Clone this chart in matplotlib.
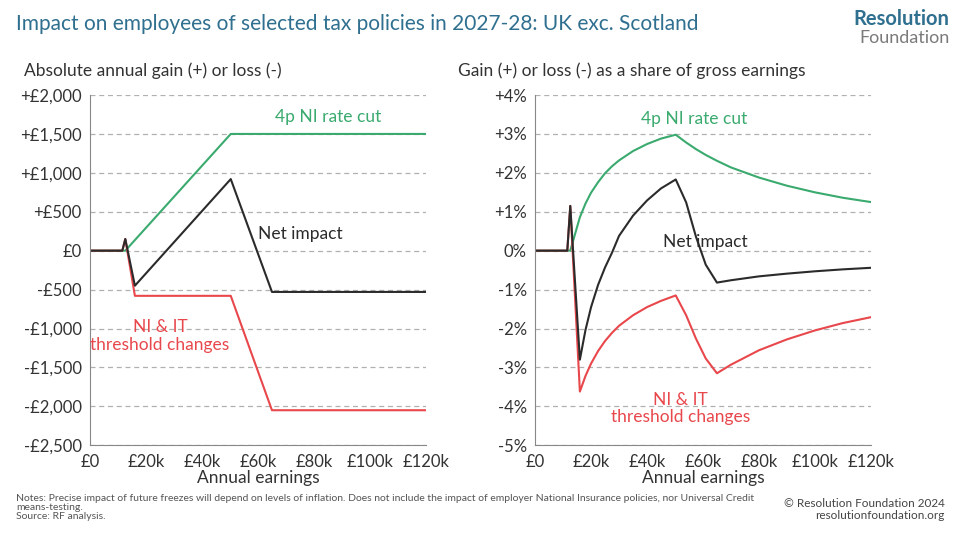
import matplotlib.pyplot as plt

plt.rcParams['font.family'] = ['Lato', 'DejaVu Sans']

# left panel: absolute gain/loss (£) by annual earnings (£k)
abs_x_ni = [0, 12.57, 50.27, 120]
abs_ni = [0, 0, 1500, 1500]
abs_x_thr = [0, 11.5, 12.57, 16, 50.27, 65, 120]
abs_thr = [0, 0, 150, -580, -580, -2050, -2050]
abs_x_net = [0, 11.5, 12.57, 16, 50.27, 65, 120]
abs_net = [0, 0, 150, -450, 920, -530, -530]

# right panel: share of gross earnings (%)
pct_x = [0, 11.5, 12.57, 16, 18, 20, 22.5, 25, 27.5, 30, 35, 40, 45, 50.27, 54, 57.5, 61, 65, 70, 80, 90, 100, 110, 120]
pct_ni = [0, 0, 0, 0.86, 1.21, 1.49, 1.76, 1.99, 2.17, 2.32, 2.56, 2.74, 2.88, 2.98, 2.78, 2.61, 2.46, 2.31, 2.14, 1.88, 1.67, 1.5, 1.36, 1.25]
pct_thr = [0, 0, 1.15, -3.62, -3.22, -2.9, -2.58, -2.32, -2.11, -1.93, -1.66, -1.45, -1.29, -1.15, -1.66, -2.26, -2.77, -3.15, -2.93, -2.56, -2.28, -2.05, -1.86, -1.71]
pct_net = [0, 0, 1.15, -2.8, -2.04, -1.45, -0.88, -0.43, -0.05, 0.38, 0.9, 1.29, 1.6, 1.83, 1.24, 0.36, -0.36, -0.82, -0.76, -0.66, -0.59, -0.53, -0.48, -0.44]

xticks = [0, 20, 40, 60, 80, 100, 120]
xlabels = ['£0', '£20k', '£40k', '£60k', '£80k', '£100k', '£120k']
abs_ticks = [-2500, -2000, -1500, -1000, -500, 0, 500, 1000, 1500, 2000]
abs_labels = ['-£2,500', '-£2,000', '-£1,500', '-£1,000', '-£500', '£0', '+£500', '+£1,000', '+£1,500', '+£2,000']
pct_ticks = [-5, -4, -3, -2, -1, 0, 1, 2, 3, 4]
pct_labels = ['-5%', '-4%', '-3%', '-2%', '-1%', '0%', '+1%', '+2%', '+3%', '+4%']

green = '#3aaa6e'
red = '#e8474c'
black = '#2b2b2b'
txt = '#333333'

fig = plt.figure(figsize=(9.59, 5.43), dpi=100)
ax1 = fig.add_axes([0.094, 0.18, 0.35, 0.645])
ax2 = fig.add_axes([0.558, 0.18, 0.35, 0.645])

for ax, ticks, labels in [(ax1, abs_ticks, abs_labels), (ax2, pct_ticks, pct_labels)]:
    ax.set_xlim(0, 120)
    ax.set_ylim(ticks[0], ticks[-1])
    ax.set_yticks(ticks)
    ax.set_yticklabels(labels)
    ax.set_xticks(xticks)
    ax.set_xticklabels(xlabels)
    ax.grid(axis='y', linestyle=(0, (4, 3)), color='#b0b0b0', lw=0.9)
    ax.set_axisbelow(True)
    for s in ['top', 'right']:
        ax.spines[s].set_visible(False)
    ax.spines['left'].set_color('#888888')
    ax.spines['bottom'].set_color('#888888')
    ax.tick_params(length=0, labelsize=12, colors=txt, pad=6)
    ax.set_xlabel('Annual earnings', fontsize=12.5, color=txt, labelpad=0)

ax1.plot(abs_x_ni, abs_ni, color=green, lw=1.5)
ax1.plot(abs_x_thr, abs_thr, color=red, lw=1.5)
ax1.plot(abs_x_net, abs_net, color=black, lw=1.5)
ax1.text(85, 1650, '4p NI rate cut', color=green, fontsize=12.5, ha='center')
ax1.text(75, 150, 'Net impact', color=black, fontsize=12.5, ha='center')
ax1.text(25, -1270, 'NI & IT\nthreshold changes', color=red, fontsize=12.5, ha='center', linespacing=1.1)

ax2.plot(pct_x, pct_ni, color=green, lw=1.5)
ax2.plot(pct_x, pct_thr, color=red, lw=1.5)
ax2.plot(pct_x, pct_net, color=black, lw=1.5)
ax2.text(57, 3.25, '4p NI rate cut', color=green, fontsize=12.5, ha='center')
ax2.text(61, 0.1, 'Net impact', color=black, fontsize=12.5, ha='center')
ax2.text(52, -4.4, 'NI & IT\nthreshold changes', color=red, fontsize=12.5, ha='center', linespacing=1.1)

fig.text(0.017, 0.955, 'Impact on employees of selected tax policies in 2027-28: UK exc. Scotland',
         fontsize=15, color='#2f6f8f', va='center')
fig.text(0.99, 0.965, 'Resolution', fontsize=14.5, color='#2f6f8f', weight='bold', ha='right', va='center')
fig.text(0.99, 0.93, 'Foundation', fontsize=13, color='#7a7a7a', ha='right', va='center')
fig.text(0.025, 0.87, 'Absolute annual gain (+) or loss (-)', fontsize=12.5, color=txt, va='center')
fig.text(0.478, 0.87, 'Gain (+) or loss (-) as a share of gross earnings', fontsize=12.5, color=txt, va='center')
fig.text(0.017, 0.04, 'Notes: Precise impact of future freezes will depend on levels of inflation. Does not include the impact of employer National Insurance policies, nor Universal Credit\nmeans-testing.\nSource: RF analysis.',
         fontsize=7.5, color='#555555', va='bottom', linespacing=1.0)
fig.text(0.985, 0.04, '© Resolution Foundation 2024\nresolutionfoundation.org', fontsize=8.5, color='#444444',
         ha='right', va='bottom', linespacing=1.1)

fig.savefig('out.png', dpi=100)
